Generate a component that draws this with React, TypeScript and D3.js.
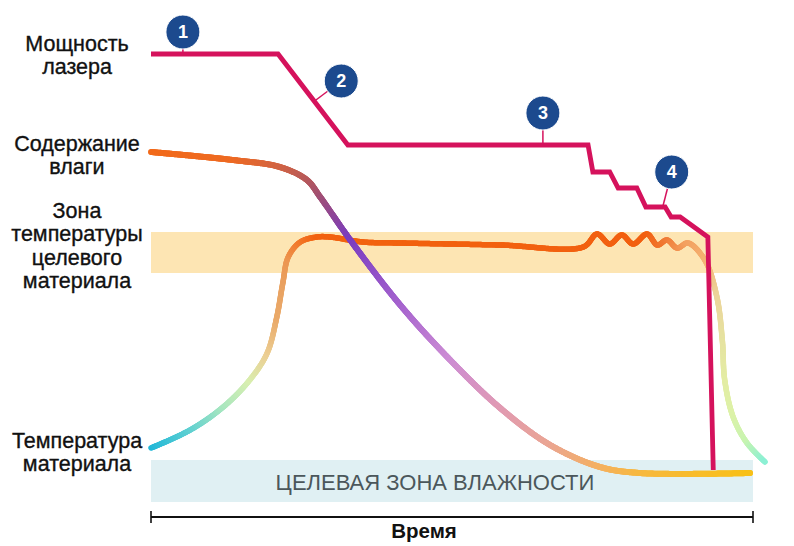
import React, { useEffect, useRef } from "react";
import * as d3 from "d3";

const W = 794;
const H = 546;

// time runs 0..100 along the axis, level 0..100 from bottom to top
const laserTime = [0, 21.1, 32.7, 72.6, 73.4, 76.2, 77.6, 80.7, 82.2, 85.4, 86.4, 87.9, 92.5, 93.4];
const laserLevel = [92.4, 92.4, 74.2, 74.2, 68.8, 68.8, 65.6, 65.6, 61.8, 61.8, 59.8, 59.8, 55.8, 9.2];

const moistTime = [0, 13.6, 21.4, 25.9, 28.1, 33.1, 41.4, 49.7, 58.0, 66.3, 74.6, 81.2, 99.5];
const moistLevel = [72.8, 71.2, 69.8, 67.2, 63.8, 55.2, 42.2, 31.2, 21.6, 14.2, 9.8, 8.6, 8.6];

const tempTime = [
  0, 6.5, 12.0, 16.4, 19.3, 20.9, 21.9, 22.8, 24.8, 27.6, 29.7, 35.2, 41.4, 58.0, 71.8,
  74.1, 76.2, 78.2, 80.1, 82.4, 84.1, 85.7, 87.4, 89.2, 92.0, 94.0, 94.9, 95.3, 96.7, 99.0, 102.0,
];
const tempLevel = [
  13.6, 17.2, 21.8, 27.2, 32.6, 39.8, 46.6, 51.8, 54.8, 55.8, 55.8, 54.8, 54.6, 54.2, 53.8,
  56.4, 54.4, 56.2, 54.4, 56.4, 54.2, 55.2, 53.6, 54.6, 51.2, 43.8, 35.2, 27.2, 19.8, 14.6, 10.8,
];

// target zones (level ranges)
const tempZone = [48.6, 56.8];
const moistZone = [2.8, 11.2];
const moistZoneLabel = "ЦЕЛЕВАЯ ЗОНА ВЛАЖНОСТИ";
const axisLabel = "Время";

// row labels on the left, level = baseline of the first line
const rowLabels = [
  ["Мощность", "лазера"],
  ["Содержание", "влаги"],
  ["Зона", "температуры", "целевого", "материала"],
  ["Температура", "материала"],
];
const rowLabelLevel = [93.0, 73.0, 59.6, 13.6];

// numbered callouts on the laser power line
const markerIds = ["1", "2", "3", "4"];
const markerTime = [5.3, 31.6, 65.1, 86.5];
const markerLevel = [96.8, 87.0, 80.6, 68.8];
const markerAnchorTime = [5.3, 27.4, 65.1, 85.0];
const markerAnchorLevel = [92.4, 83.2, 74.2, 61.8];

// colour stops: [data point index, colour]
const moistStops: [number, string][] = [
  [0, "#f26a1a"], [1, "#ee6a22"], [2, "#d36442"], [3, "#b95a58"], [4, "#a25072"],
  [5, "#7a3cc0"], [6, "#a462ce"], [7, "#cc8cd4"], [8, "#e09ab4"], [9, "#eaa594"],
  [10, "#f4b062"], [11, "#f7b840"], [12, "#f8c018"],
];
const tempStops: [number, string][] = [
  [0, "#1fb6d8"], [1, "#5ccfd2"], [2, "#a6e6c0"], [3, "#d8efb0"], [4, "#eccf94"],
  [5, "#eaaa6a"], [6, "#e9a262"], [7, "#ec9550"], [8, "#f27a2c"], [9, "#f2620f"],
  [19, "#f26010"], [21, "#f07a35"], [23, "#f3a060"], [24, "#f4b070"], [25, "#ecd49a"],
  [26, "#e6e2a0"], [27, "#e4eca4"], [28, "#dcf2a8"], [29, "#c8f4b0"], [30, "#8cf0d4"],
];

const FONT = "'Liberation Sans', Arial, sans-serif";
const LASER = "#d5125c";

const buildChart = (el: SVGSVGElement) => {
  const svg = d3.select(el);
  svg.selectAll("*").remove();

  const x = d3.scaleLinear().domain([0, 100]).range([151, 753]);
  const y = d3.scaleLinear().domain([0, 100]).range([516, 16]);

  // zones
  svg
    .append("rect")
    .attr("x", x(0))
    .attr("y", y(tempZone[1]))
    .attr("width", x(100) - x(0))
    .attr("height", y(tempZone[0]) - y(tempZone[1]))
    .attr("fill", "#fde5b3");

  svg
    .append("rect")
    .attr("x", x(0))
    .attr("y", y(moistZone[1]))
    .attr("width", x(100) - x(0))
    .attr("height", y(moistZone[0]) - y(moistZone[1]))
    .attr("fill", "#e0f0f3");

  svg
    .append("text")
    .attr("x", 435)
    .attr("y", y(moistZone[0]) - 12)
    .attr("text-anchor", "middle")
    .attr("font-family", FONT)
    .attr("font-size", 22)
    .attr("fill", "#4b575b")
    .text(moistZoneLabel);

  // left labels
  rowLabels.forEach((lines, i) => {
    const t = svg
      .append("text")
      .attr("text-anchor", "middle")
      .attr("font-family", FONT)
      .attr("font-size", 21.5)
      .attr("fill", "#111")
      .attr("stroke", "#111")
      .attr("stroke-width", 0.35);
    lines.forEach((s, j) => {
      t.append("tspan")
        .attr("x", 77)
        .attr("y", y(rowLabelLevel[i]) + j * 23.3)
        .text(s);
    });
  });

  // time axis
  const axis = svg.append("g").attr("stroke", "#111").attr("stroke-width", 2.2);
  axis.append("line").attr("x1", x(0)).attr("x2", x(100)).attr("y1", 517).attr("y2", 517);
  [0, 100].forEach(v => {
    axis.append("line").attr("x1", x(v)).attr("x2", x(v)).attr("y1", 511).attr("y2", 523).attr("stroke-width", 1.6);
  });
  svg
    .append("text")
    .attr("x", 424)
    .attr("y", 538)
    .attr("text-anchor", "middle")
    .attr("font-family", FONT)
    .attr("font-weight", "bold")
    .attr("font-size", 20.5)
    .attr("fill", "#111")
    .text(axisLabel);

  // curve with colour changing along its length
  const gradientLine = (times: number[], levels: number[], stops: [number, string][], width: number) => {
    const pts = times.map((t, i) => [x(t), y(levels[i])] as [number, number]);
    const line = d3.line().curve(d3.curveCatmullRom.alpha(0.5));
    const g = svg.append("g");
    const probe = g.append("path").attr("fill", "none");
    const node = probe.node() as SVGPathElement;
    const lens = pts.map((_, i) => {
      if (i === 0) return 0;
      probe.attr("d", line(pts.slice(0, i + 1)));
      return node.getTotalLength();
    });
    probe.attr("d", line(pts));
    const total = node.getTotalLength();
    lens[lens.length - 1] = total;

    const color = d3
      .scaleLinear<string>()
      .domain(stops.map(s => lens[s[0]]))
      .range(stops.map(s => s[1]))
      .interpolate(d3.interpolateRgb)
      .clamp(true);

    const step = 1.2;
    const n = Math.ceil(total / step);
    const samples = d3.range(n + 1).map(i => {
      const l = Math.min(total, i * step);
      const p = node.getPointAtLength(l);
      return { x: p.x, y: p.y, l };
    });
    probe.remove();

    g.selectAll("line")
      .data(samples.slice(1))
      .join("line")
      .attr("x1", (d, i) => samples[i].x)
      .attr("y1", (d, i) => samples[i].y)
      .attr("x2", d => d.x)
      .attr("y2", d => d.y)
      .attr("stroke", d => color(d.l))
      .attr("stroke-width", width)
      .attr("stroke-linecap", "round");
  };

  gradientLine(tempTime, tempLevel, tempStops, 5.5);
  gradientLine(moistTime, moistLevel, moistStops, 6);

  // laser power
  const laserPts = laserTime.map((t, i) => [x(t), y(laserLevel[i])] as [number, number]);
  svg
    .append("path")
    .attr("d", d3.line()(laserPts))
    .attr("fill", "none")
    .attr("stroke", LASER)
    .attr("stroke-width", 4.8)
    .attr("stroke-linejoin", "miter");

  // callouts
  const markers = svg
    .selectAll(".marker")
    .data(markerIds)
    .join("g")
    .attr("class", "marker");

  markers
    .append("line")
    .attr("x1", (d, i) => x(markerTime[i]))
    .attr("y1", (d, i) => y(markerLevel[i]))
    .attr("x2", (d, i) => x(markerAnchorTime[i]))
    .attr("y2", (d, i) => y(markerAnchorLevel[i]))
    .attr("stroke", LASER)
    .attr("stroke-width", 1.5);

  markers
    .append("circle")
    .attr("cx", (d, i) => x(markerTime[i]))
    .attr("cy", (d, i) => y(markerLevel[i]))
    .attr("r", 17)
    .attr("fill", "#1c4a8e")
    .attr("stroke", "#fff")
    .attr("stroke-width", 1);

  markers
    .append("text")
    .attr("x", (d, i) => x(markerTime[i]))
    .attr("y", (d, i) => y(markerLevel[i]))
    .attr("dy", "0.36em")
    .attr("text-anchor", "middle")
    .attr("font-family", FONT)
    .attr("font-weight", "bold")
    .attr("font-size", 18)
    .attr("fill", "#fff")
    .text(d => d);
};

function App() {
  const ref = useRef<SVGSVGElement>(null);

  useEffect(() => {
    if (ref.current) buildChart(ref.current);
  }, []);

  return (
    <svg
      ref={ref}
      width={W}
      height={H}
      style={{ position: "absolute", left: 0, top: 0, background: "#fff" }}
    />
  );
}

export default App;
